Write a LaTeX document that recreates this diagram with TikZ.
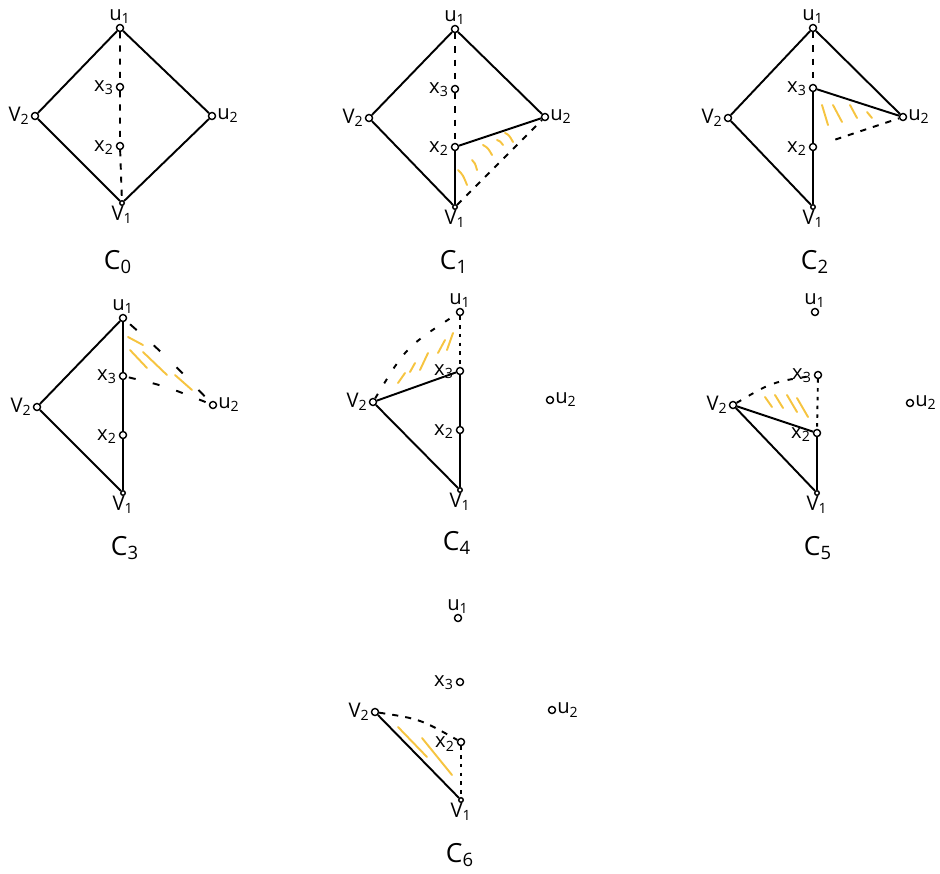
\documentclass[tikz,border=0pt]{standalone}
\usepackage{fontspec}
\setmainfont{Open Sans}
\definecolor{hy}{RGB}{246,196,64}
\newcommand\lbl[2]{#1\textsubscript{#2}}
\newcommand\stdlabels[1]{%
  \path (#1u1) ++(0,-11) node[lab] (#1u1t) {\lbl{u}{1}};
  \path (#1x3) ++(-16,1) node[lab] (#1x3t) {\lbl{x}{3}};
  \path (#1x2) ++(-16,2) node[lab] (#1x2t) {\lbl{x}{2}};
  \path (#1v1) ++(0,12) node[lab] (#1v1t) {\lbl{V}{1}};
  \path (#1v2) ++(-16,0) node[lab] (#1v2t) {\lbl{V}{2}};
  \path (#1u2) ++(16,0) node[lab] (#1u2t) {\lbl{u}{2}};
}
\tikzset{
  vtx/.style={circle,draw,line width=0.8pt,inner sep=0pt,minimum size=4pt},
  svtx/.style={vtx,minimum size=2.6pt},
  lab/.style={font=\fontsize{11.5}{13}\selectfont,inner sep=0pt},
  captxt/.style={font=\fontsize{15}{17}\selectfont,inner sep=0pt},
  edge/.style={line width=1.1pt},
  dsh/.style={line width=1.1pt,dash pattern=on 3.5pt off 4pt},
  dsparse/.style={line width=1.1pt,dash pattern=on 5pt off 13pt},
  dotl/.style={line width=1.1pt,dash pattern=on 2pt off 3pt},
  hatch/.style={line width=1.1pt,draw=hy,line cap=round}
}
\begin{document}
\begin{tikzpicture}[x=0.02cm,y=-0.02cm]
\useasboundingbox (0,0) rectangle (940,873);
% ---------- C0 ----------
\node[vtx] (au1) at (120,28) {};
\node[vtx] (ax3) at (120,87) {};
\node[vtx] (ax2) at (120,146) {};
\node[svtx] (av1) at (122,203) {};
\node[vtx] (av2) at (35,116) {};
\node[vtx] (au2) at (212,116) {};
\stdlabels{a}
\node[captxt] (acap) at (118,262) {\lbl{C}{0}};
\draw[edge] (au1) -- (av2) -- (av1) -- (au2) -- (au1);
\draw[dsh] (au1) -- (ax3) -- (ax2) -- (av1);
% ---------- C1 ----------
\node[vtx] (bu1) at (455,29) {};
\node[vtx] (bx3) at (455,89) {};
\node[vtx] (bx2) at (455,147) {};
\node[svtx] (bv1) at (455,207) {};
\node[vtx] (bv2) at (369,118) {};
\node[vtx] (bu2) at (545,117) {};
\stdlabels{b}
\node[captxt] (bcap) at (454,262) {\lbl{C}{1}};
\draw[edge] (bu1) -- (bv2) -- (bv1);
\draw[edge] (bu1) -- (bu2) -- (bx2) -- (bv1);
\draw[dsh] (bu1) -- (bx3) -- (bx2);
\draw[dsh] (bv1) -- (bu2);
\draw[hatch] (458,170) .. controls (463,175) .. (467,185);
\draw[hatch] (472,160) .. controls (475,163) .. (477,170);
\draw[hatch] (483,145) .. controls (488,148) .. (492,155);
\draw[hatch] (497,140) .. controls (500,141) .. (503,145);
\draw[hatch] (505,133) .. controls (509,135) .. (513,142);
% ---------- C2 ----------
\node[vtx] (cu1) at (813,28) {};
\node[vtx] (cx3) at (813,88) {};
\node[vtx] (cx2) at (813,147) {};
\node[svtx] (cv1) at (813,207) {};
\node[vtx] (cv2) at (728,118) {};
\node[vtx] (cu2) at (903,117) {};
\stdlabels{c}
\node[captxt] (ccap) at (815,262) {\lbl{C}{2}};
\draw[edge] (cu1) -- (cv2) -- (cv1);
\draw[edge] (cu1) -- (cu2) -- (cx3) -- (cx2) -- (cv1);
\draw[dsh] (cu1) -- (cx3);
\draw[dsh,shorten <=11pt] (cx2) -- (cu2);
\draw[hatch] (822,105) -- (828,125);
\draw[hatch] (833,105) -- (842,122);
\draw[hatch] (850,105) -- (857,118);
\draw[hatch] (867,112) -- (872,118);
% ---------- C3 ----------
\node[vtx] (du1) at (123,318) {};
\node[vtx] (dx3) at (123,376) {};
\node[vtx] (dx2) at (123,435) {};
\node[svtx] (dv1) at (123,493) {};
\node[vtx] (dv2) at (37,407) {};
\node[vtx] (du2) at (213,405) {};
\stdlabels{d}
\node[captxt] (dcap) at (125,548) {\lbl{C}{3}};
\draw[edge] (du1) -- (dv2) -- (dv1);
\draw[edge] (du1) -- (dx3) -- (dx2) -- (dv1);
\draw[dsparse,dash phase=-3pt] (du1) .. controls (166,356) .. (du2);
\draw[dsparse,dash pattern=on 4pt off 10pt,dash phase=-1pt] (dx3) .. controls (165,386) .. (du2);
\draw[hatch] (128,337) -- (143,345);
\draw[hatch] (130,350) -- (147,368);
\draw[hatch] (143,352) -- (167,375);
\draw[hatch] (175,375) -- (192,390);
% ---------- C4 ----------
\node[vtx] (eu1) at (460,312) {};
\node[vtx] (ex3) at (460,371) {};
\node[vtx] (ex2) at (460,430) {};
\node[svtx] (ev1) at (460,490) {};
\node[vtx] (ev2) at (373,402) {};
\node[vtx] (eu2) at (550,400) {};
\stdlabels{e}
\node[captxt] (ecap) at (457,543) {\lbl{C}{4}};
\draw[edge] (ev2) -- (ex3) -- (ex2) -- (ev1) -- (ev2);
\draw[dotl] (eu1) -- (ex3);
\draw[dsh,dash pattern=on 3pt off 7pt] (ev2) .. controls (406,347) .. (eu1);
\draw[hatch] (398,383) -- (405,373);
\draw[hatch] (410,372) -- (415,363);
\draw[hatch] (420,370) -- (428,353);
\draw[hatch] (438,353) -- (445,340);
\draw[hatch] (447,350) -- (453,333);
% ---------- C5 ----------
\node[vtx] (fu1) at (815,312) {};
\node[vtx] (fx3) at (818,375) {};
\node[vtx] (fx2) at (817,433) {};
\node[svtx] (fv1) at (817,493) {};
\node[vtx] (fv2) at (733,405) {};
\node[vtx] (fu2) at (910,403) {};
\stdlabels{f}
\node[captxt] (fcap) at (818,548) {\lbl{C}{5}};
\draw[edge] (fv2) -- (fx2) -- (fv1) -- (fv2);
\draw[dotl] (fx3) -- (fx2);
\draw[dsh,dash pattern=on 3pt off 5pt] (fv2) .. controls (772,382) .. (fx3);
\draw[hatch] (765,397) -- (772,407);
\draw[hatch] (775,395) -- (783,408);
\draw[hatch] (787,395) -- (797,412);
\draw[hatch] (797,398) -- (808,417);
% ---------- C6 ----------
\node[vtx] (gu1) at (458,618) {};
\node[vtx] (gx3) at (460,682) {};
\node[vtx] (gx2) at (461,742) {};
\node[svtx] (gv1) at (461,800) {};
\node[vtx] (gv2) at (375,712) {};
\node[vtx] (gu2) at (552,710) {};
\stdlabels{g}
\node[captxt] (gcap) at (460,855) {\lbl{C}{6}};
\draw[edge] (gv2) -- (gv1);
\draw[dsh] (gv2) .. controls (420,719) .. (gx2);
\draw[dotl] (gx2) -- (gv1);
\draw[hatch] (398,727) -- (427,757);
\draw[hatch] (422,738) -- (452,775);
\end{tikzpicture}
\end{document}
